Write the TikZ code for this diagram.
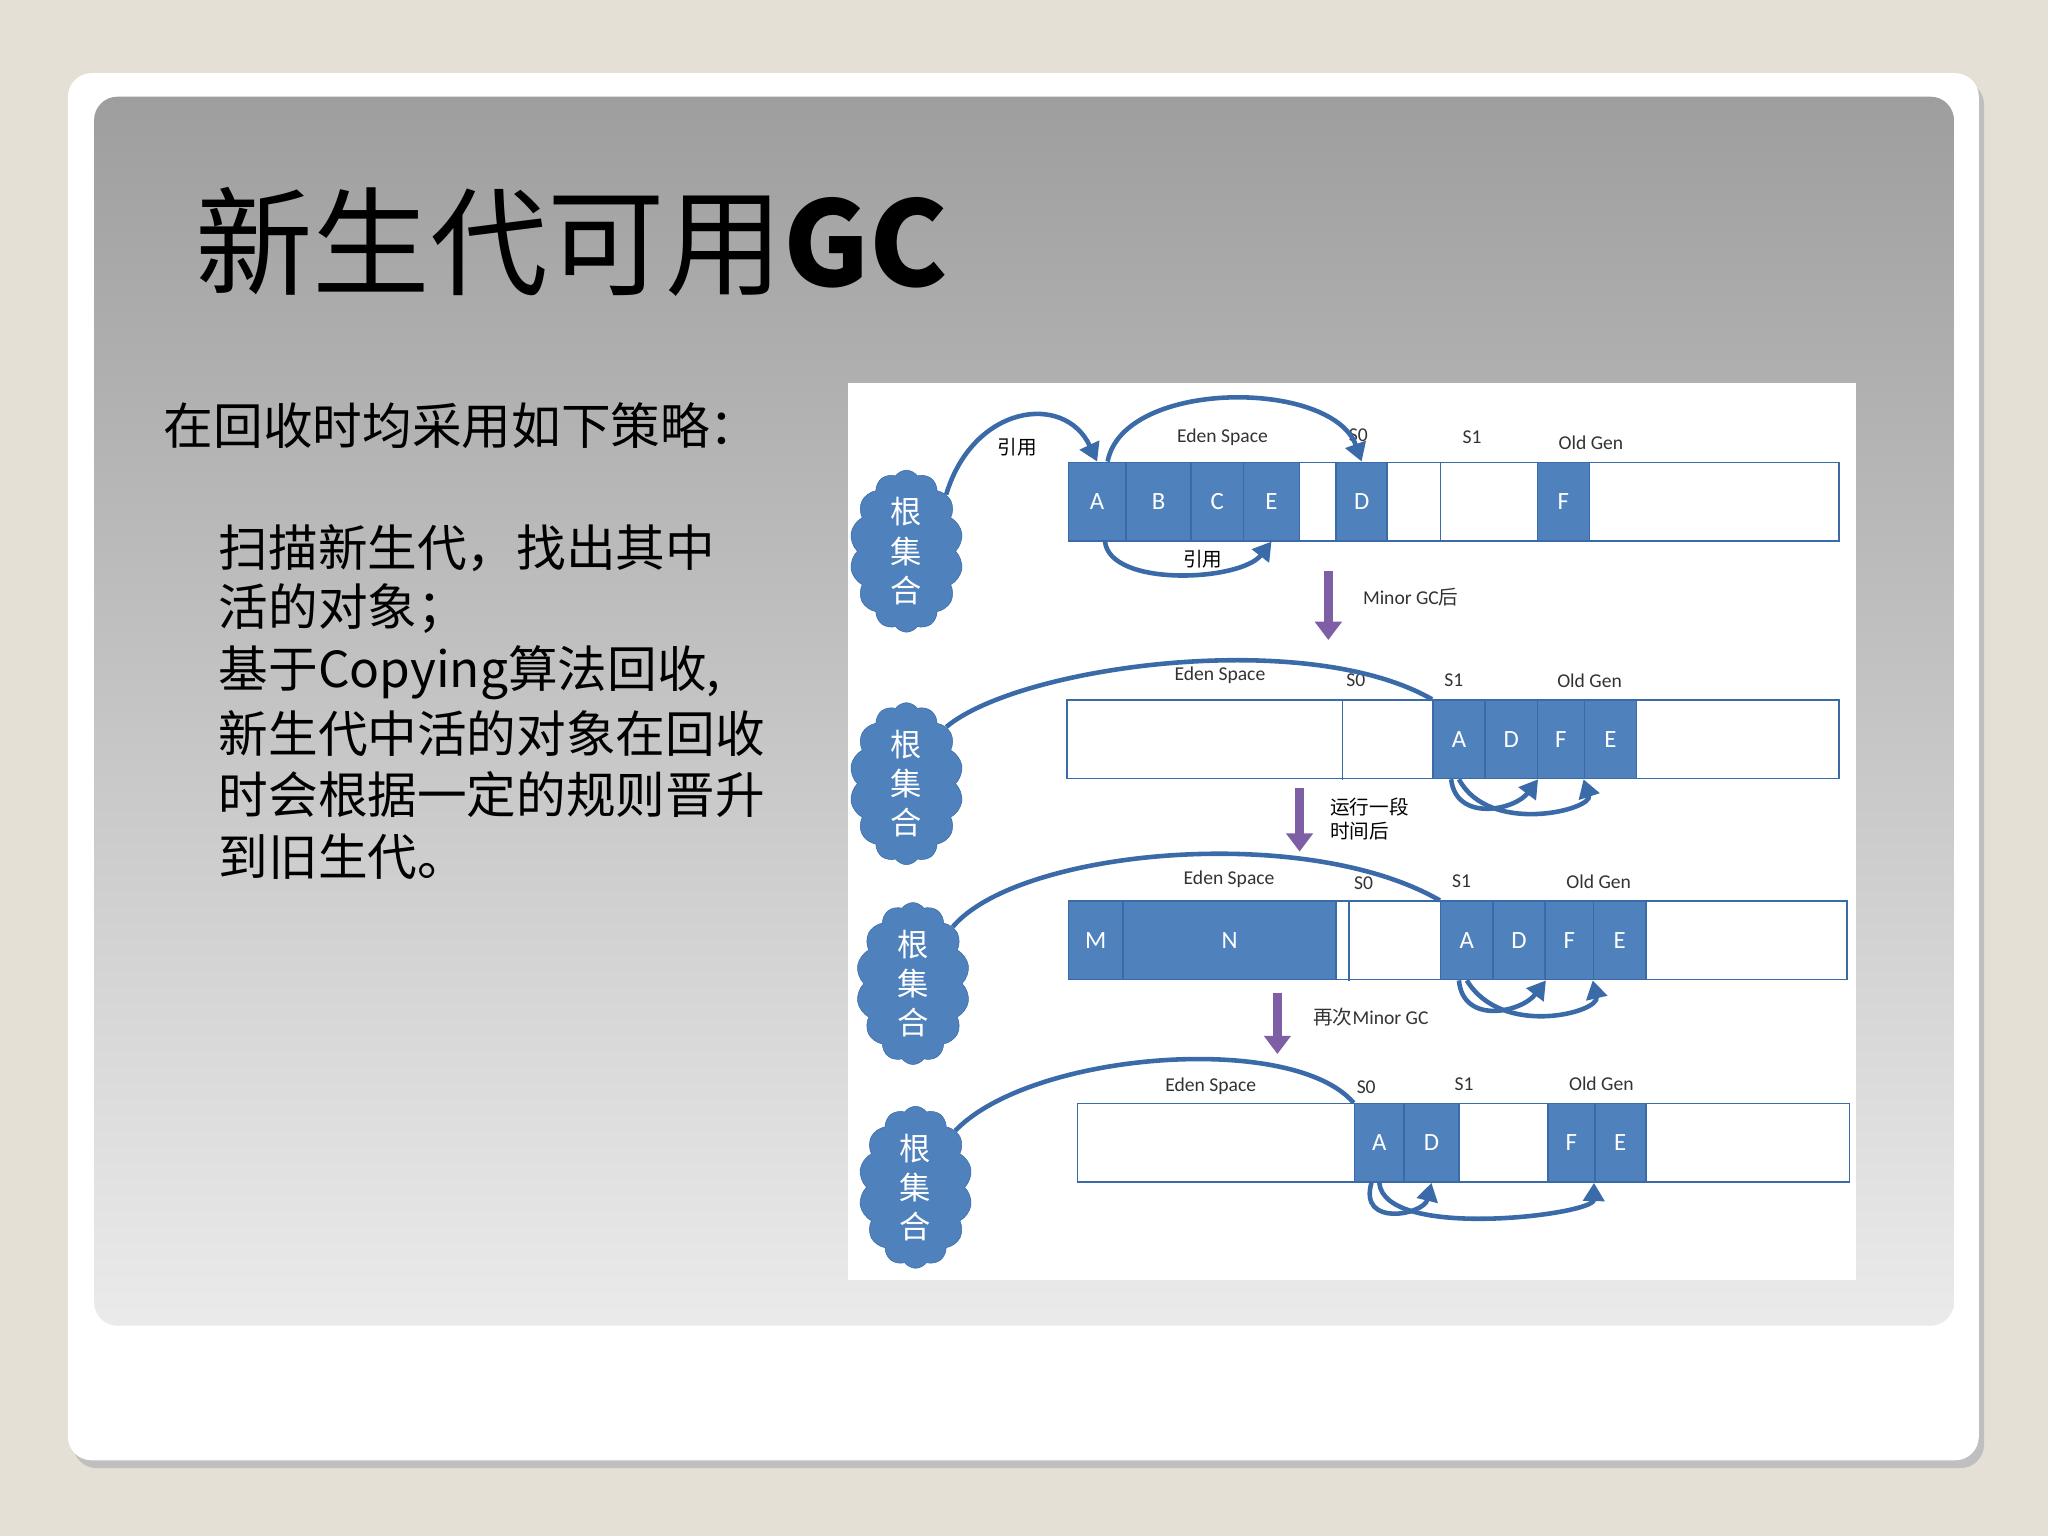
\documentclass[tikz,border=0pt]{standalone}
\usepackage{fontspec}
\setmainfont{Noto Sans CJK SC}
\newfontfamily\lat{Carlito}
\newfontfamily\cjk{Noto Sans CJK SC}
\usetikzlibrary{shapes.symbols,arrows.meta,calc}
\definecolor{bg}{HTML}{E4E0D6}
\definecolor{cb}{HTML}{4F81BD}
\definecolor{cbd}{HTML}{3A6AA8}
\definecolor{pu}{HTML}{7E5FA6}
\tikzset{
 cell/.style={draw=cbd,fill=cb,text=white,minimum height=60pt,inner sep=0pt,font=\lat\fontsize{19}{19}\selectfont,line width=1.2pt},
 wcell/.style={draw=cbd,fill=white,minimum height=60pt,inner sep=0pt,line width=1.2pt},
 lab/.style={font=\lat\fontsize{15}{15}\selectfont,text=black!80},
 cl/.style={cloud,cloud puffs=14,cloud puff arc=110,aspect=0.65,fill=cb,draw=cbd,minimum width=84pt,minimum height=124pt,text=white,font=\cjk\fontsize{24}{30}\selectfont,align=center,inner sep=0pt},
 ref/.style={draw=cbd,line width=3.5pt,-{Triangle[length=14pt,width=16pt]}},
 down/.style={draw=pu,line width=7pt,-{Triangle[length=14pt,width=20pt]}},
 txt/.style={anchor=west,font=\fontsize{38}{38}\selectfont},
}
\begin{document}
\begin{tikzpicture}[x=1pt,y=-1pt]
\fill[bg] (0,0) rectangle (1568,1176);
\fill[black!25,rounded corners=18pt] (56,62) rectangle (1519,1124);
\fill[white,rounded corners=18pt] (52,56) rectangle (1515,1118);
\shade[rounded corners=18pt,top color=black!38,bottom color=black!8] (72,74) rectangle (1496,1015);
\node[anchor=west,font=\fontsize{90}{90}\selectfont] (title) at (146,185) {新生代可用\textbf{GC}};
\node[txt] (t0) at (122,326) {在回收时均采用如下策略：};
\node[txt] (t1) at (164,420) {扫描新生代，找出其中};
\node[txt] (t2) at (164,466) {活的对象；};
\node[txt] (t3) at (164,515) {基于Copying算法回收,};
\node[txt] (t4) at (164,562) {新生代中活的对象在回收};
\node[txt] (t5) at (164,608) {时会根据一定的规则晋升};
\node[txt] (t6) at (164,656) {到旧生代。};
\fill[white] (649,293) rectangle (1421,980);
% row 1
\node[wcell,minimum width=590pt] (b1) at (1113,384) {};
\draw[cbd,line width=1.2pt] (1103,354) -- (1103,414);
\node[cell,minimum width=44pt] (r1a) at (840,384) {A};
\node[cell,minimum width=50pt] (r1b) at (887,384) {B};
\node[cell,minimum width=40pt] (r1c) at (932,384) {C};
\node[cell,minimum width=43pt] (r1e) at (973.5,384) {E};
\node[cell,minimum width=39pt] (r1d) at (1042.5,384) {D};
\node[cell,minimum width=40pt] (r1f) at (1197,384) {F};
\node[cl] (c1) at (694,422) {根\\集\\合};
\node[lab] (l1e) at (936,335) {Eden Space};
\node[lab] (l1s0) at (1040,333) {S0};
\node[lab] (l1s1) at (1127,335) {S1};
\node[lab] (l1o) at (1218,339) {Old Gen};
\node[font=\cjk\fontsize{15}{15}\selectfont] (y1) at (779,342) {引用};
\node[font=\cjk\fontsize{15}{15}\selectfont] (y2) at (921,428) {引用};
\draw[ref] (c1.north east) .. controls (745,310) and (815,300) .. (r1a.north);
\draw[ref] ($(r1a.north)+(8,0)$) .. controls (860,290) and (1020,290) .. (r1d.north);
\draw[ref] ($(r1a.south)+(6,0)$) .. controls (850,450) and (950,445) .. (r1e.south);
% down 1
\coordinate (d1a) at (1017,437); \coordinate (d1b) at (1017,490);
\draw[down] (d1a) -- (d1b);
\node[lab,anchor=west] (m1) at (1040,457) {Minor GC{\cjk 后}};
% row 2
\node[wcell,minimum width=591pt] (b2) at (1112.5,566) {};
\draw[cbd,line width=1.2pt] (1028,535) -- (1028,597);
\node[cell,minimum width=40pt] (r2a) at (1117,566) {A};
\node[cell,minimum width=40pt] (r2d) at (1157,566) {D};
\node[cell,minimum width=36pt] (r2f) at (1195,566) {F};
\node[cell,minimum width=40pt] (r2e) at (1233,566) {E};
\node[cl] (c2) at (694,600) {根\\集\\合};
\node[lab] (l2e) at (934,517) {Eden Space};
\node[lab] (l2s0) at (1038,521) {S0};
\node[lab] (l2s1) at (1113,521) {S1};
\node[lab] (l2o) at (1217,521) {Old Gen};
\draw[ref,-] (c2.north east) .. controls (780,510) and (1000,480) .. (r2a.north west);
\draw[ref] ($(r2a.south)+(-6,0)$) .. controls (1115,630) and (1160,620) .. (r2d.south east);
\draw[ref] ($(r2a.south)+(0,0)$) .. controls (1140,640) and (1220,620) .. (r2e.south west);
\coordinate (d2a) at (995,603); \coordinate (d2b) at (995,652);
\draw[down] (d2a) -- (d2b);
\node[font=\cjk\fontsize{15}{18}\selectfont,align=left,anchor=west] (m2) at (1015,627) {运行一段\\时间后};
% row 3
\node[wcell,minimum width=596pt] (b3) at (1116,720) {};
\draw[cbd,line width=1.2pt] (1033,690) -- (1033,751);
\node[cell,minimum width=42pt] (r3m) at (839,720) {M};
\node[cell,minimum width=163pt] (r3n) at (941.5,720) {N};
\node[cell,minimum width=40pt] (r3a) at (1123,720) {A};
\node[cell,minimum width=40pt] (r3d) at (1163,720) {D};
\node[cell,minimum width=37pt] (r3f) at (1201.5,720) {F};
\node[cell,minimum width=40pt] (r3e) at (1240,720) {E};
\node[cl] (c3) at (699,753) {根\\集\\合};
\node[lab] (l3e) at (941,673) {Eden Space};
\node[lab] (l3s0) at (1044,676) {S0};
\node[lab] (l3s1) at (1119,675) {S1};
\node[lab] (l3o) at (1224,675) {Old Gen};
\draw[ref,-] (c3.north east) .. controls (780,650) and (1000,630) .. (r3a.north west);
\draw[ref] ($(r3a.south)+(-6,0)$) .. controls (1120,785) and (1165,775) .. (r3d.south east);
\draw[ref] (r3a.south) .. controls (1150,795) and (1225,775) .. (r3e.south west);
\coordinate (d3a) at (978,760); \coordinate (d3b) at (978,807);
\draw[down] (d3a) -- (d3b);
\node[lab,anchor=west] (m3) at (1002,779) {{\cjk 再次}Minor GC};
% row 4
\node[wcell,minimum width=591pt] (b4) at (1120.5,875) {};
\node[cell,minimum width=38pt] (r4a) at (1056,875) {A};
\node[cell,minimum width=42pt] (r4d) at (1096,875) {D};
\node[cell,minimum width=36pt] (r4f) at (1203,875) {F};
\node[cell,minimum width=39pt] (r4e) at (1240.5,875) {E};
\node[cl] (c4) at (701,909) {根\\集\\合};
\node[lab] (l4e) at (927,832) {Eden Space};
\node[lab] (l4s0) at (1046,832) {S0};
\node[lab] (l4s1) at (1121,830) {S1};
\node[lab] (l4o) at (1226,830) {Old Gen};
\draw[ref,-] (c4.north east) .. controls (790,805) and (990,790) .. (r4a.north west);
\draw[ref] ($(r4a.south)+(-6,0)$) .. controls (1040,940) and (1090,930) .. (r4d.south);
\draw[ref] (r4a.south) .. controls (1060,950) and (1220,930) .. (r4e.south west);
\end{tikzpicture}
\end{document}
